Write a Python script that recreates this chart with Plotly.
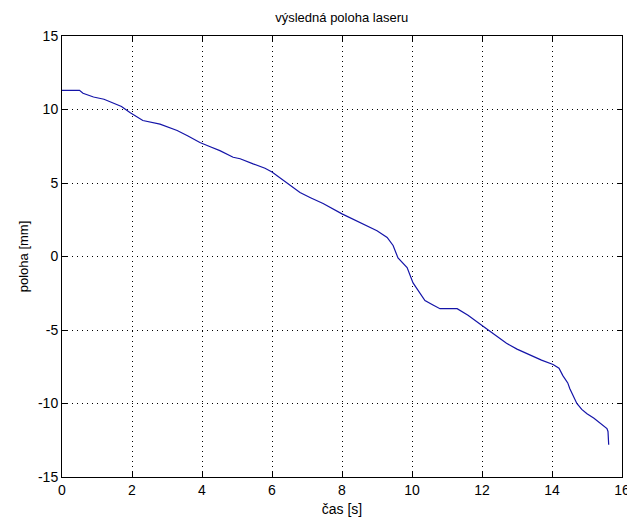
import plotly.graph_objects as go

time_s = [0.0, 0.5, 0.6, 0.9, 1.2, 1.46, 1.7, 1.94, 2.1, 2.31, 2.8, 3.29, 3.6, 3.94, 4.2, 4.51, 4.89,
          5.09, 5.46, 5.8, 6.0, 6.2, 6.43, 6.8, 7.1, 7.46, 8.0, 8.51, 9.0, 9.29, 9.46, 9.6,
          9.86, 10.03, 10.2, 10.37, 10.6, 10.8, 11.29, 11.6, 12.03, 12.4, 12.7, 13.0, 13.37, 13.7,
          14.03, 14.2, 14.31, 14.45, 14.51, 14.6, 14.71, 14.85, 15.0, 15.2, 15.37, 15.5, 15.57, 15.6, 15.62]
position_mm = [11.3, 11.3, 11.1, 10.85, 10.7, 10.45, 10.2, 9.8, 9.55, 9.25, 9.0, 8.57, 8.2, 7.75, 7.5, 7.2, 6.75,
               6.65, 6.3, 6.0, 5.75, 5.4, 4.95, 4.35, 4.0, 3.6, 2.9, 2.3, 1.75, 1.3, 0.75, -0.1,
               -0.75, -1.8, -2.4, -3.0, -3.3, -3.55, -3.55, -4.0, -4.75, -5.4, -5.9, -6.3, -6.7, -7.05,
               -7.35, -7.6, -8.1, -8.6, -9.0, -9.5, -10.0, -10.4, -10.7, -11.0, -11.3, -11.55, -11.7, -11.9, -12.8]

x_ticks = [0, 2, 4, 6, 8, 10, 12, 14, 16]
y_ticks = [-15, -10, -5, 0, 5, 10, 15]

font_family = "Liberation Sans Narrow, Arial Narrow, Liberation Sans, Arial, sans-serif"

fig = go.Figure()
fig.add_trace(go.Scatter(x=time_s, y=position_mm, mode="lines",
                         line=dict(color="#1414a8", width=1.2), showlegend=False))

axis_common = dict(
    showline=True, linecolor="black", linewidth=1, mirror="ticks",
    ticks="inside", ticklen=5, tickcolor="black", tickwidth=1,
    showgrid=True, gridcolor="black", gridwidth=1, griddash="1px,4px",
    zeroline=False, ticklabeloverflow="allow", automargin=False,
    tickfont=dict(family=font_family, size=14, color="black"),
)

fig.update_layout(
    width=627, height=520,
    margin=dict(l=62, r=5, t=36, b=43),
    paper_bgcolor="white", plot_bgcolor="white",
    title=dict(text="výsledná poloha laseru", x=0.545, xanchor="center", y=0.967, yanchor="middle",
               font=dict(family=font_family, size=13, color="black")),
    xaxis=dict(range=[0, 16], tickvals=x_ticks, ticktext=[str(v) for v in x_ticks],
               title=dict(text="čas [s]", standoff=7, font=dict(family=font_family, size=14, color="black")),
               **axis_common),
    yaxis=dict(range=[-15, 15], tickvals=y_ticks, ticktext=[str(v) for v in y_ticks],
               title=dict(text="poloha [mm]", standoff=6, font=dict(family=font_family, size=13, color="black")),
               **axis_common),
)

fig.write_html("out.html")
